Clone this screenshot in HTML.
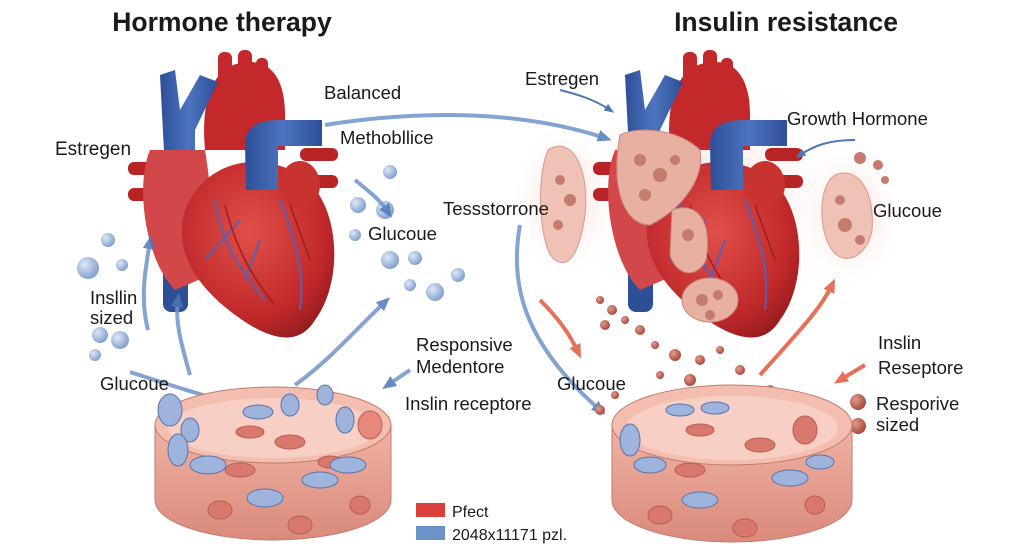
<!DOCTYPE html>
<html><head><meta charset="utf-8"><style>
html,body{margin:0;padding:0;background:#fff;width:1024px;height:559px;overflow:hidden}
svg text{font-family:"Liberation Sans",Arial,sans-serif;fill:#1a1a1a}
</style></head><body>
<svg width="1024" height="559" viewBox="0 0 1024 559" xmlns="http://www.w3.org/2000/svg" font-family="Liberation Sans, Arial, sans-serif">
<defs>
<radialGradient id="hr" cx="0.45" cy="0.4" r="0.7"><stop offset="0" stop-color="#e0504a"/><stop offset="0.7" stop-color="#c0282a"/><stop offset="1" stop-color="#8e1a1c"/></radialGradient>
<linearGradient id="bl" x1="0" y1="0" x2="1" y2="0"><stop offset="0" stop-color="#2d4f96"/><stop offset="0.5" stop-color="#4d74c0"/><stop offset="1" stop-color="#2d4f96"/></linearGradient>
<linearGradient id="disk" x1="0" y1="0" x2="0" y2="1"><stop offset="0" stop-color="#f1b3a4"/><stop offset="1" stop-color="#d98a7c"/></linearGradient>
<radialGradient id="glow" cx="0.5" cy="0.5" r="0.5"><stop offset="0" stop-color="#f6c9c0" stop-opacity="0.9"/><stop offset="1" stop-color="#fff" stop-opacity="0"/></radialGradient>
<radialGradient id="ball" cx="0.35" cy="0.35" r="0.7"><stop offset="0" stop-color="#dfe8f6"/><stop offset="1" stop-color="#7d9ccc"/></radialGradient>
<radialGradient id="rball" cx="0.35" cy="0.35" r="0.7"><stop offset="0" stop-color="#e09a8e"/><stop offset="1" stop-color="#a8443a"/></radialGradient>
<marker id="ab" markerUnits="userSpaceOnUse" markerWidth="14" markerHeight="14" refX="7" refY="7" orient="auto"><path d="M0,1 L14,7 L0,13 z" fill="#4f78b8"/></marker>
<marker id="abs" markerUnits="userSpaceOnUse" markerWidth="10" markerHeight="10" refX="5" refY="5" orient="auto"><path d="M0,1 L10,5 L0,9 z" fill="#4f78b8"/></marker>
<marker id="ar" markerUnits="userSpaceOnUse" markerWidth="14" markerHeight="14" refX="7" refY="7" orient="auto"><path d="M0,1 L14,7 L0,13 z" fill="#e2583c"/></marker>
<g id="heart">
<rect x="128" y="162" width="45" height="13" rx="6" fill="#b82426"/>
<rect x="128" y="188" width="45" height="13" rx="6" fill="#b82426"/>
<rect x="300" y="148" width="38" height="13" rx="6" fill="#b82426"/>
<rect x="300" y="175" width="38" height="13" rx="6" fill="#b82426"/>
<rect x="163" y="230" width="25" height="82" rx="8" fill="#2d4f96"/>
<path d="M205,150 C200,95 215,62 250,62 C275,62 285,85 285,115 L285,150 Z" fill="#c3292b"/>
<rect x="218" y="52" width="14" height="40" rx="6" fill="#c3292b"/>
<rect x="238" y="50" width="14" height="40" rx="6" fill="#c3292b"/>
<rect x="256" y="58" width="12" height="35" rx="5" fill="#c3292b"/>
<path d="M160,75 L175,70 L180,110 L200,75 L218,82 L195,130 L195,170 L165,170 Z" fill="url(#bl)"/>
<path d="M150,150 C135,185 145,260 175,290 L210,275 C215,230 210,180 205,150 Z" fill="#d2484a"/>
<path d="M185,210 C170,260 210,300 250,325 C275,340 300,345 315,320 C345,280 340,200 300,175 C260,150 205,160 185,210 Z" fill="url(#hr)"/>
<path d="M245,145 C245,125 260,120 280,120 L322,120 L322,146 L278,146 L278,190 L246,190 Z" fill="url(#bl)"/>
<ellipse cx="300" cy="185" rx="20" ry="24" fill="#c83330"/>
<path d="M215,200 C220,240 240,270 265,300 M280,200 C295,240 305,270 300,310 M240,220 L205,260 M260,240 L245,280" stroke="#5a5fb0" stroke-width="2" fill="none"/>
<path d="M225,205 C235,245 250,275 275,305 M290,205 L310,260" stroke="#a01c20" stroke-width="1.5" fill="none"/>
</g>
</defs>

<text x="222" y="31" font-size="26.5" font-weight="bold" text-anchor="middle">Hormone therapy</text>
<text x="786" y="31" font-size="26.5" font-weight="bold" text-anchor="middle">Insulin resistance</text>

<ellipse cx="565" cy="200" rx="55" ry="80" fill="url(#glow)"/>
<ellipse cx="850" cy="215" rx="55" ry="75" fill="url(#glow)"/>
<ellipse cx="715" cy="200" rx="150" ry="140" fill="url(#glow)" opacity="0.6"/>

<use href="#heart"/>
<use href="#heart" transform="translate(465,0)"/>

<path d="M620,135 C640,125 680,130 700,150 C705,180 680,210 650,225 C625,225 610,190 620,135 Z" fill="#e7b0a2" stroke="#c98a7e"/>
<path d="M672,210 C700,200 712,225 706,260 C696,280 676,275 670,255 Z" fill="#e7b0a2" stroke="#c98a7e"/>
<ellipse cx="710" cy="300" rx="28" ry="22" fill="#e7b0a2" stroke="#c98a7e"/>
<g fill="#c57b70"><circle cx="640" cy="160" r="6"/><circle cx="660" cy="175" r="7"/><circle cx="645" cy="195" r="6"/><circle cx="675" cy="160" r="5"/><circle cx="688" cy="235" r="6"/><circle cx="702" cy="300" r="6"/><circle cx="718" cy="295" r="5"/><circle cx="710" cy="315" r="5"/></g>

<path d="M548,150 C570,135 590,165 585,215 C580,250 570,270 555,260 C540,250 535,180 548,150Z" fill="#f0c2b6" stroke="#d49a8e"/>
<g fill="#c57b70"><circle cx="560" cy="180" r="5"/><circle cx="570" cy="200" r="6"/><circle cx="558" cy="225" r="5"/></g>
<path d="M835,175 C860,165 875,195 872,230 C868,255 845,268 832,250 C818,230 818,185 835,175Z" fill="#f0c2b6" stroke="#d49a8e"/>
<g fill="#c57b70"><circle cx="840" cy="200" r="5"/><circle cx="845" cy="225" r="7"/><circle cx="860" cy="240" r="5"/><circle cx="860" cy="158" r="6"/><circle cx="878" cy="165" r="5"/><circle cx="885" cy="180" r="4"/></g>

<g fill="url(#ball)">
<circle cx="390" cy="172" r="7"/><circle cx="358" cy="205" r="8"/><circle cx="385" cy="210" r="9"/><circle cx="355" cy="235" r="6"/><circle cx="390" cy="260" r="9"/><circle cx="415" cy="258" r="7"/><circle cx="435" cy="292" r="9"/><circle cx="410" cy="285" r="6"/><circle cx="458" cy="275" r="7"/>
<circle cx="108" cy="240" r="7"/><circle cx="88" cy="268" r="11"/><circle cx="122" cy="265" r="6"/><circle cx="100" cy="335" r="8"/><circle cx="120" cy="340" r="9"/><circle cx="95" cy="355" r="6"/>
</g>

<g stroke="#6f93c8" stroke-width="4" fill="none" marker-end="url(#ab)" opacity="0.85">
<path d="M325,125 C420,110 520,110 605,138"/>
<path d="M355,180 C370,192 380,200 388,212"/>
<path d="M148,330 C140,300 145,270 150,242"/>
<path d="M190,375 C180,340 175,320 178,300"/>
<path d="M130,372 C170,385 200,395 230,402"/>
<path d="M295,385 C330,360 355,330 385,302"/>
<path d="M410,370 L388,385"/>
<path d="M520,225 C510,280 520,340 600,410"/>
</g>
<g stroke="#e2583c" stroke-width="4" fill="none" marker-end="url(#ar)" opacity="0.85">
<path d="M540,300 C560,320 570,335 578,352"/>
<path d="M760,375 C800,330 820,310 832,285"/>
<path d="M865,365 L840,380"/>
</g>
<path d="M560,90 C580,95 595,100 610,110" stroke="#4f78b8" stroke-width="2" fill="none" marker-end="url(#abs)"/>
<path d="M855,140 C830,140 815,145 800,155" stroke="#4f78b8" stroke-width="2" fill="none" marker-end="url(#abs)"/>

<g fill="url(#rball)">
<circle cx="600" cy="300" r="4"/><circle cx="612" cy="310" r="5"/><circle cx="625" cy="320" r="4"/><circle cx="605" cy="325" r="5"/><circle cx="640" cy="330" r="5"/><circle cx="655" cy="345" r="4"/><circle cx="675" cy="355" r="6"/><circle cx="700" cy="360" r="5"/><circle cx="720" cy="350" r="4"/><circle cx="740" cy="370" r="5"/><circle cx="690" cy="380" r="6"/><circle cx="660" cy="375" r="4"/><circle cx="770" cy="390" r="5"/><circle cx="615" cy="395" r="4"/><circle cx="640" cy="405" r="5"/><circle cx="600" cy="410" r="5"/><circle cx="785" cy="410" r="4"/>
<circle cx="858" cy="402" r="8"/><circle cx="858" cy="426" r="8"/>
</g>

<path d="M155,425 L155,500 A118,40 0 0 0 391,500 L391,425 Z" fill="url(#disk)" stroke="#c47a6e"/>
<ellipse cx="273" cy="425" rx="118" ry="38" fill="#f3bdb0" stroke="#c47a6e"/>
<ellipse cx="273" cy="428" rx="105" ry="30" fill="#f8cfc4"/>
<g fill="#d9786c" stroke="#b95e52"><ellipse cx="250" cy="432" rx="14" ry="6"/><ellipse cx="290" cy="442" rx="15" ry="7"/><ellipse cx="240" cy="470" rx="15" ry="7"/><ellipse cx="220" cy="510" rx="12" ry="9"/><ellipse cx="300" cy="525" rx="12" ry="9"/><ellipse cx="360" cy="505" rx="10" ry="9"/><ellipse cx="330" cy="462" rx="12" ry="6"/></g>
<g fill="#9fb4dc" stroke="#5a72a8"><ellipse cx="170" cy="410" rx="12" ry="16"/><ellipse cx="190" cy="430" rx="9" ry="12"/><ellipse cx="178" cy="450" rx="10" ry="16"/><ellipse cx="208" cy="465" rx="18" ry="9"/><ellipse cx="258" cy="412" rx="15" ry="7"/><ellipse cx="290" cy="405" rx="9" ry="11"/><ellipse cx="325" cy="395" rx="8" ry="10"/><ellipse cx="345" cy="420" rx="9" ry="13"/><ellipse cx="348" cy="465" rx="18" ry="8"/><ellipse cx="320" cy="480" rx="18" ry="8"/><ellipse cx="265" cy="498" rx="18" ry="9"/></g>
<ellipse cx="370" cy="425" rx="12" ry="14" fill="#e6887c" stroke="#b95e52"/>

<path d="M612,425 L612,500 A120,42 0 0 0 852,500 L852,425 Z" fill="url(#disk)" stroke="#c47a6e"/>
<ellipse cx="732" cy="425" rx="120" ry="40" fill="#f3bdb0" stroke="#c47a6e"/>
<ellipse cx="732" cy="428" rx="106" ry="32" fill="#f8cfc4"/>
<g fill="#d9786c" stroke="#b95e52"><ellipse cx="700" cy="430" rx="14" ry="6"/><ellipse cx="760" cy="445" rx="15" ry="7"/><ellipse cx="690" cy="470" rx="15" ry="7"/><ellipse cx="660" cy="515" rx="12" ry="9"/><ellipse cx="745" cy="528" rx="12" ry="9"/><ellipse cx="815" cy="505" rx="10" ry="9"/><ellipse cx="805" cy="430" rx="12" ry="14"/></g>
<g fill="#9fb4dc" stroke="#5a72a8"><ellipse cx="630" cy="440" rx="10" ry="16"/><ellipse cx="650" cy="465" rx="16" ry="8"/><ellipse cx="680" cy="410" rx="14" ry="6"/><ellipse cx="715" cy="408" rx="14" ry="6"/><ellipse cx="790" cy="478" rx="18" ry="8"/><ellipse cx="820" cy="462" rx="14" ry="7"/><ellipse cx="700" cy="500" rx="18" ry="8"/></g>

<g font-size="18.5">
<text x="324" y="99">Balanced</text>
<text x="340" y="144">Methobllice</text>
<text x="55" y="155" font-size="19">Estregen</text>
<text x="368" y="240">Glucoue</text>
<text x="90" y="304">Insllin</text>
<text x="90" y="324">sized</text>
<text x="100" y="390">Glucoue</text>
<text x="416" y="351">Responsive</text>
<text x="416" y="373">Medentore</text>
<text x="405" y="410">Inslin receptore</text>
<text x="525" y="85">Estregen</text>
<text x="787" y="125">Growth Hormone</text>
<text x="443" y="215">Tessstorrone</text>
<text x="873" y="217">Glucoue</text>
<text x="557" y="390">Glucoue</text>
<text x="878" y="349">Inslin</text>
<text x="878" y="374">Reseptore</text>
<text x="876" y="410">Resporive</text>
<text x="876" y="431">sized</text>
</g>
<rect x="416" y="503" width="29" height="14" fill="#d9403c"/>
<text x="452" y="517" font-size="16">Pfect</text>
<rect x="416" y="526" width="29" height="14" fill="#6c93c8"/>
<text x="452" y="540" font-size="16">2048x11171 pzl.</text>
</svg>
</body></html>
